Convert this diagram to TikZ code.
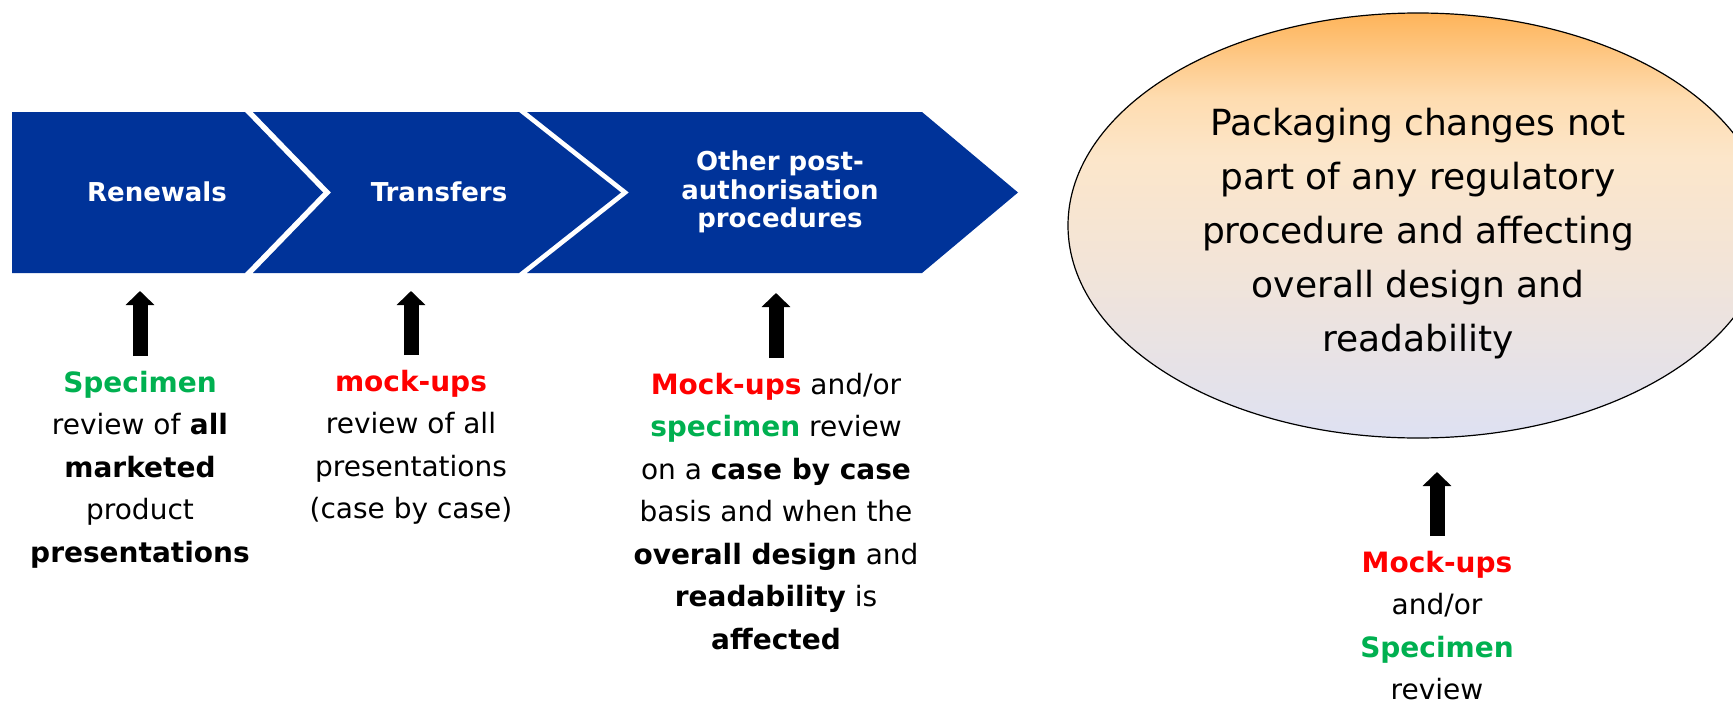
\documentclass[tikz,border=0pt]{standalone}
\usepackage{fontspec}
\setmainfont{DejaVu Sans}
\usetikzlibrary{arrows.meta,shapes.geometric}

\definecolor{emablue}{RGB}{0,51,153}
\definecolor{mockred}{RGB}{255,0,0}
\definecolor{specgreen}{RGB}{0,176,80}
\definecolor{ovaltop}{RGB}{254,180,90}
\definecolor{ovalupper}{RGB}{254,220,176}
\definecolor{ovalpeach}{RGB}{252,230,202}
\definecolor{ovallower}{RGB}{242,228,216}
\definecolor{ovalbot}{RGB}{222,225,242}
\pgfdeclareverticalshading{ovalshade}{100bp}{color(0bp)=(ovalbot); color(25bp)=(ovalbot);
  color(45bp)=(ovallower); color(58bp)=(ovalpeach); color(65bp)=(ovalupper);
  color(75bp)=(ovaltop); color(100bp)=(ovaltop)}

\newcommand{\redb}[1]{\textcolor{mockred}{\textbf{#1}}}
\newcommand{\greenb}[1]{\textcolor{specgreen}{\textbf{#1}}}

\begin{document}
\begin{tikzpicture}[x=1pt,y=-1pt]
\tikzstyle{chevron} = [fill=emablue]
\tikzstyle{steplabel} = [text=white, align=center, inner sep=0pt,
font=\bfseries\fontsize{26}{28.5}\selectfont]
\tikzstyle{note} = [align=center, anchor=north, inner sep=0pt,
font=\fontsize{28}{42.5}\selectfont]
\tikzstyle{oval} = [ellipse, draw, line width=1.2pt, minimum width=700pt,
minimum height=425pt, shading=ovalshade]
\tikzstyle{ovaltext} = [align=center, inner sep=0pt, font=\fontsize{36}{54}\selectfont]
\tikzstyle{uparrow} = [draw, line width=15pt, -{Triangle[width=28pt,length=14pt]},
shorten <=15pt]

\useasboundingbox (0,0) rectangle (1733,704);
\clip (0,0) rectangle (1733,704);

% chevron band
\fill[chevron] (12,112) -- (245,112) -- (323,192.5) -- (245,273) -- (12,273) -- cycle;
\fill[chevron] (253,112) -- (519,112) -- (621,192.5) -- (519,273) -- (253,273)
  -- (331,192.5) -- cycle;
\fill[chevron] (527,112) -- (922,112) -- (1018,192.5) -- (922,273) -- (527,273)
  -- (629,192.5) -- cycle;
\node[steplabel] (renew) at (157,192) {Renewals};
\node[steplabel] (transf) at (439,192) {Transfers};
\node[steplabel] (other) at (780,192) {Other post-\\authorisation\\procedures};

% oval
\node[oval] (oval) at (1418,225.5) {};
\node[ovaltext] (ovaltext) at (1418,234) {Packaging changes not\\part of any regulatory\\
procedure and affecting\\overall design and\\readability};

% review notes
\node[note] (spec) at (140,371) {\greenb{Specimen}\\review of \textbf{all}\\
\textbf{marketed}\\product\\\textbf{presentations}};
\node[note] (mock) at (411,370) {\redb{mock-ups}\\review of all\\presentations\\
(case by case)};
\node[note] (casebycase) at (776,373) {\redb{Mock-ups} and/or\\\greenb{specimen} review\\
on a \textbf{case by case}\\basis and when the\\\textbf{overall design} and\\
\textbf{readability} is\\\textbf{affected}};
\node[note] (packnote) at (1437,551) {\redb{Mock-ups}\\and/or\\\greenb{Specimen}\\review};

% arrow tips
\coordinate (renewfoot) at (140,291);
\coordinate (transffoot) at (411,291);
\coordinate (otherfoot) at (776,293);
\coordinate (ovalfoot) at (1437,472);

\draw[uparrow] (spec.north) -- (renewfoot);
\draw[uparrow] (mock.north) -- (transffoot);
\draw[uparrow] (casebycase.north) -- (otherfoot);
\draw[uparrow] (packnote.north) -- (ovalfoot);
\end{tikzpicture}
\end{document}
